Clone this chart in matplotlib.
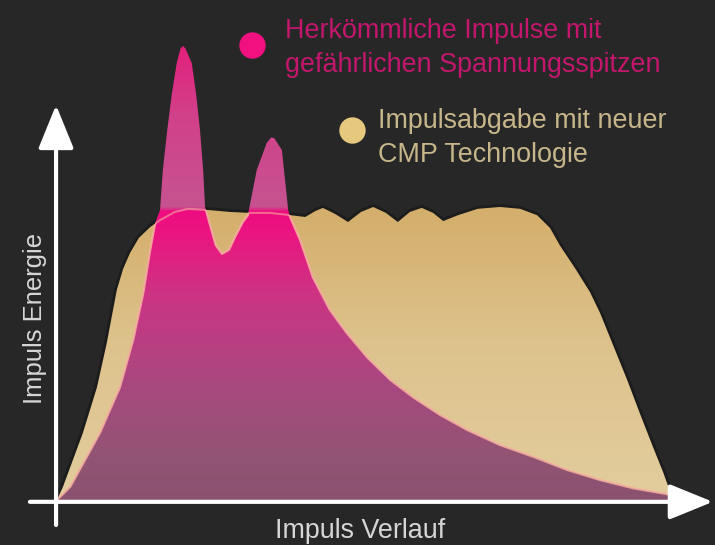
"""Impulse comparison infographic: conventional pulses vs. CMP technology."""
import numpy as np
import matplotlib
matplotlib.use("Agg")
import matplotlib.pyplot as plt
from matplotlib import font_manager as fm
from matplotlib.colors import LinearSegmentedColormap
from matplotlib.patches import Polygon

# The original uses a condensed grotesque; take a narrow face when one is
# installed, otherwise Liberation Sans set a bit smaller to keep the widths.
_names = {f.name for f in fm.fontManager.ttflist}
if "Liberation Sans Narrow" in _names:
    FAMILY, SCALE = ["Liberation Sans Narrow", "DejaVu Sans"], 1.0
elif "DejaVu Sans Condensed" in _names:
    FAMILY, SCALE = ["DejaVu Sans Condensed", "DejaVu Sans"], 0.93
else:
    FAMILY, SCALE = ["Liberation Sans", "DejaVu Sans"], 0.84
plt.rcParams["font.family"] = FAMILY

# ── data (x = Impuls Verlauf 0..100, y = Impuls Energie 0..100) ──
cmp_x = [0, 0.95, 4.1, 6.35, 7.9, 9.5, 10.5, 11.6, 13.0, 14.8, 16.35, 18.7,
         20.8, 24.3, 27.5, 30.6, 33.8, 37.0, 39.4, 41.0, 42.2, 44.1, 46.2,
         48.25, 50.2, 52.2, 54.1, 56.0, 57.9, 59.7, 61.3, 63.65, 66.8, 70.3,
         73.5, 76.2, 78.25, 79.8, 82.2, 84.6, 86.2, 88.25, 90.5, 92.5, 94.6,
         96.2, 97.8]
cmp_y = [0, 2.9, 14.7, 24.8, 34.5, 46.2, 50.8, 54.3, 57.6, 60.0, 61.5, 63.3,
         64.0, 63.7, 63.3, 63.1, 63.1, 62.6, 62.2, 63.5, 64.2, 62.9, 61.1,
         63.3, 64.4, 63.1, 61.1, 63.3, 64.2, 63.1, 61.3, 62.6, 64.0, 64.4,
         64.0, 62.6, 59.8, 56.0, 51.0, 45.7, 41.1, 34.1, 26.4, 19.1, 11.65,
         6.15, 0]

conv_x = [0, 2.1, 6.8, 10.0, 12.1, 13.7, 14.8, 15.6, 16.35, 16.8, 17.5, 18.2,
          19.0, 19.6, 20.0, 20.4, 21.4, 22.1, 22.7, 23.2, 23.5, 24.3, 25.2,
          26.2, 27.3, 28.4, 29.5, 30.3, 31.7, 33.3, 34.0, 34.5, 35.7, 36.2,
          36.7, 37.0, 38.6, 40.6, 43.3, 46.0, 49.2, 52.9, 56.5, 60.8, 65.1,
          70.3, 75.6, 81.0, 86.2, 91.4, 96.8, 99.7]
conv_y = [0, 2.9, 14.7, 24.8, 35.2, 45.5, 55.0, 60.9, 63.7, 72.5, 81.3, 89.0,
          96.0, 99.2, 99.8, 99.2, 96.0, 89.0, 81.3, 72.5, 64.4, 60.4, 56.0,
          54.1, 55.0, 58.2, 61.1, 62.6, 72.5, 78.5, 79.7, 79.5, 76.9, 70.3,
          63.7, 62.2, 57.1, 49.0, 41.8, 36.7, 31.4, 26.4, 22.6, 18.7, 15.4,
          12.1, 9.5, 6.6, 4.4, 2.6, 1.3, 0]

label_conv = ["Herkömmliche Impulse mit", "gefährlichen Spannungsspitzen"]
label_cmp = ["Impulsabgabe mit neuer", "CMP Technologie"]
xlabel = "Impuls Verlauf"
ylabel = "Impuls Energie"

BG = "#272727"
PINK = "#f0107f"
TAN = "#e6c97e"

# colour ramps as a function of energy (0..100)
tan_cmap = LinearSegmentedColormap.from_list(
    "tan", [(0.0, "#e3cd9e"), (0.35, "#ddc28c"), (0.64, "#d4ae6b"), (1.0, "#d4ae6b")])
pink_cmap = LinearSegmentedColormap.from_list(
    "pink", [(0.0, "#8b5270"), (0.10, "#935474"), (0.25, "#a8487f"),
             (0.45, "#cc3484"), (0.58, "#ea1680"), (0.635, "#ef0c80"),
             (0.645, "#c65391"), (0.85, "#d2408a"), (1.0, "#e2207c")])

fig = plt.figure(figsize=(7.15, 5.45), dpi=100, facecolor=BG)
ax = fig.add_axes([57 / 715, 45 / 545, 630 / 715, 455 / 545])
ax.set_facecolor(BG)
ax.axis("off")

ramp = np.linspace(0, 1, 256).reshape(-1, 1)

# CMP curve (tan) with a faint dark halo
tan_poly = Polygon(np.column_stack([cmp_x, cmp_y]), closed=True,
                   facecolor="none", edgecolor="none")
ax.add_patch(tan_poly)
ax.plot(cmp_x, cmp_y, color="#0c0c0c", lw=4, alpha=0.4, zorder=1,
        solid_joinstyle="round")
im_tan = ax.imshow(ramp, extent=[0, 100, 0, 100], origin="lower",
                   aspect="auto", cmap=tan_cmap, vmin=0, vmax=1, zorder=2)
im_tan.set_clip_path(tan_poly)

# conventional curve (pink)
pink_poly = Polygon(np.column_stack([conv_x, conv_y]), closed=True,
                    facecolor="none", edgecolor="none")
ax.add_patch(pink_poly)
im_pink = ax.imshow(ramp, extent=[0, 100, 0, 100], origin="lower",
                    aspect="auto", cmap=pink_cmap, vmin=0, vmax=1, zorder=3)
im_pink.set_clip_path(pink_poly)

# light seam where the two shapes meet
seam1, = ax.plot(conv_x, conv_y, color="#f6b0a0", lw=1.6, alpha=0.85, zorder=4,
                 solid_joinstyle="round")
seam1.set_clip_path(tan_poly)
seam2, = ax.plot(cmp_x, cmp_y, color="#f6b0a0", lw=1.4, alpha=0.6, zorder=4,
                 solid_joinstyle="round")
seam2.set_clip_path(pink_poly)

ax.set_xlim(0, 100)
ax.set_ylim(0, 100)

# axes arrows
arrow = dict(arrowstyle="-|>,head_length=1.35,head_width=0.55",
             mutation_scale=20, lw=3, color="white", shrinkA=0, shrinkB=0)
ax.annotate("", xy=(-0.15, 86.8), xytext=(-0.15, -5.5),
            arrowprops=arrow, annotation_clip=False, zorder=6)
ax.annotate("", xy=(104.1, -0.4), xytext=(-4.3, -0.4),
            arrowprops=arrow, annotation_clip=False, zorder=6)

fs_big = 23 * SCALE
fig.text(0.503, 0.012, xlabel, ha="center", va="baseline",
         fontsize=fs_big, color="#d6d6d6")
fig.text(0.049, 0.415, ylabel, ha="center", va="center", rotation=90,
         fontsize=22 * SCALE, color="#d6d6d6")

# legend
ax.plot([0.3524], [0.917], "o", ms=19, color=PINK, mec="none",
        transform=fig.transFigure, clip_on=False)
ax.plot([0.4923], [0.7615], "o", ms=19, color=TAN, mec="none",
        transform=fig.transFigure, clip_on=False)
fig.text(0.3986, 0.930, label_conv[0], fontsize=fs_big, color="#c2176c",
         va="baseline")
fig.text(0.3986, 0.868, label_conv[1], fontsize=fs_big, color="#c2176c",
         va="baseline")
fig.text(0.5287, 0.765, label_cmp[0], fontsize=fs_big, color="#c6b68a",
         va="baseline")
fig.text(0.5287, 0.703, label_cmp[1], fontsize=fs_big, color="#c6b68a",
         va="baseline")

fig.savefig("out.png", dpi=100, facecolor=BG)
